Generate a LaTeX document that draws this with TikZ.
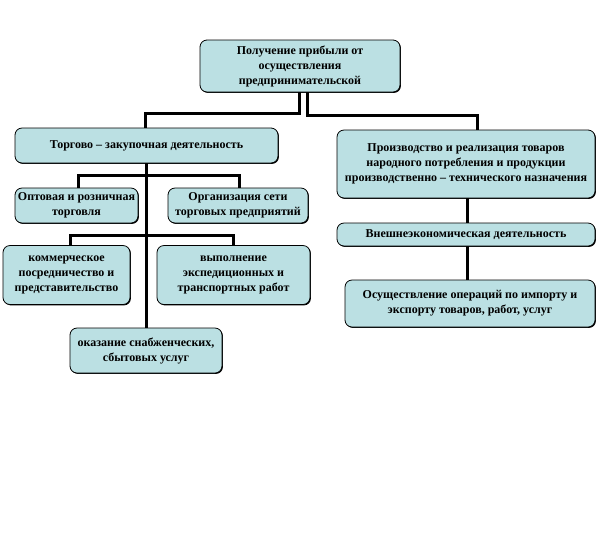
\documentclass[tikz,border=0pt]{standalone}
\usepackage{fontspec}
\setmainfont{Liberation Serif}
\usetikzlibrary{shadows}
\definecolor{boxfill}{RGB}{187,224,227}
\tikzset{
  box/.style={draw=black, line width=0.8pt, fill=boxfill, rounded corners=7pt,
    align=center, inner sep=1pt, font=\bfseries\fontsize{12}{15}\selectfont,
    drop shadow={shadow xshift=0.9pt, shadow yshift=-0.9pt, fill=black, opacity=1}},
  conn/.style={draw=black, line width=3pt}
}
\begin{document}
\begin{tikzpicture}[x=1pt,y=-1pt]
\useasboundingbox (0,0) rectangle (599,550);
% boxes
\node[box, minimum width=200pt, minimum height=52pt] (top) at (300,66)
  {Получение прибыли от\\осуществления\\предпринимательской};
\node[box, minimum width=263pt, minimum height=35pt] (trade) at (146.5,145.5)
  {Торгово – закупочная деятельность};
\node[box, minimum width=258pt, minimum height=68pt] (prod) at (466,164)
  {Производство и реализация товаров\\народного потребления и  продукции\\производственно – технического назначения};
\node[box, minimum width=123pt, minimum height=35pt] (opt) at (76.5,205.5)
  {Оптовая и розничная\\торговля};
\node[box, minimum width=140pt, minimum height=35pt] (org) at (238,205.5)
  {Организация сети\\торговых предприятий};
\node[box, minimum width=258pt, minimum height=23pt] (ext) at (466,234.5)
  {Внешнеэкономическая деятельность};
\node[box, minimum width=127pt, minimum height=59pt] (kom) at (66.5,275)
  {коммерческое\\посредничество и\\представительство};
\node[box, minimum width=153pt, minimum height=59pt] (vyp) at (233.5,275)
  {выполнение\\экспедиционных и\\транспортных работ};
\node[box, minimum width=152pt, minimum height=45pt] (okaz) at (146,350.5)
  {оказание снабженческих,\\сбытовых услуг};
\node[box, minimum width=250pt, minimum height=47pt] (osu) at (470,303.5)
  {Осуществление операций по импорту и\\экспорту товаров, работ, услуг};
% helper coordinates
\coordinate (ja) at (299,113);
\coordinate (jb) at (307,115);
\coordinate (xl) at (145,0);
\coordinate (xr) at (477,0);
\coordinate (xm) at (146,0);
\coordinate (xp) at (467,0);
\coordinate (h1) at (78,175);
\coordinate (h1r) at (239,175);
\coordinate (h2) at (70,235);
\coordinate (h2r) at (233,235);
% connectors
\draw[conn] (top.south -| ja) -- (ja) -| (trade.north -| xl);
\draw[conn] (top.south -| jb) -- (jb) -| (prod.north -| xr);
\draw[conn] (trade.south -| xm) -- (okaz.north -| xm);
\draw[conn] (opt.north -| h1) |- (h1r) -- (org.north -| h1r);
\draw[conn] (kom.north -| h2) |- (h2r) -- (vyp.north -| h2r);
\draw[conn] (prod.south -| xp) -- (ext.north -| xp);
\draw[conn] (ext.south -| xp) -- (osu.north -| xp);
\end{tikzpicture}
\end{document}
